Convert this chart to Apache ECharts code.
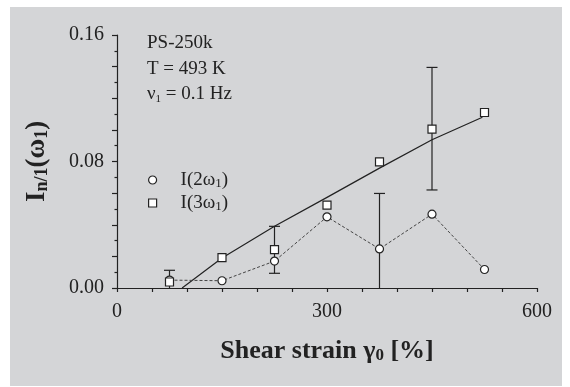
<!DOCTYPE html>
<html>
<head>
<meta charset="utf-8">
<script src="https://cdn.jsdelivr.net/npm/echarts@6/dist/echarts.min.js"></script>
<style>
  html, body { margin: 0; padding: 0; background: #fff; }
  #chart { width: 570px; height: 387px; }
</style>
</head>
<body>
<div id="chart"></div>
<script>
  // shear strain amplitude [%]
  var strain = [75, 150, 225, 300, 375, 450, 525];
  // I(2w1) and I(3w1)
  var i2 = [0.0050, 0.0046, 0.0170, 0.0450, 0.0247, 0.0467, 0.0117];
  var i3 = [0.0038, 0.0192, 0.0243, 0.0524, 0.0797, 0.1005, 0.1110];
  // fit curve through I(3w1)
  var fitX = [93, 150, 225, 300, 375, 450, 522];
  var fitY = [0, 0.0190, 0.0390, 0.0573, 0.0758, 0.0938, 0.1080];
  // error bars
  var errX = [75, 225, 375, 450];
  var errLow = [-0.001, 0.0093, -0.010, 0.0620];
  var errHigh = [0.0112, 0.0390, 0.0598, 0.1395];
  // labelled ticks
  var xTicks = [0, 300, 600];
  var yTicks = [0, 0.08, 0.16];

  var serif = '"Liberation Serif", "DejaVu Serif", serif';
  var ink = '#222';

  var chart = echarts.init(document.getElementById('chart'));

  var pts2 = strain.map(function (x, i) { return [x, i2[i]] });
  var pts3 = strain.map(function (x, i) { return [x, i3[i]] });
  var fit = fitX.map(function (x, i) { return [x, fitY[i]] });
  var errs = errX.map(function (x, i) { return [x, errLow[i], errHigh[i]] });

  chart.setOption({
    backgroundColor: '#fff',
    animation: false,
    graphic: [
      {
        type: 'rect', z: -100, silent: true,
        shape: { x: 10, y: 7, width: 552, height: 379 },
        style: { fill: '#d4d5d7' }
      },
      {
        type: 'text', left: 147, top: 34,
        style: { text: 'PS-250k', font: '19px ' + serif, fill: ink }
      },
      {
        type: 'text', left: 147, top: 60,
        style: { text: 'T = 493 K', font: '19px ' + serif, fill: ink }
      },
      {
        type: 'text', left: 147, top: 85,
        style: {
          text: 'ν{s|1} = 0.1 Hz', font: '19px ' + serif, fill: ink,
          rich: { s: { fontSize: 11, fontFamily: serif, fill: ink, padding: [9, 0, 0, 0] } }
        }
      }
    ],
    grid: { left: 117, right: 33, top: 35, bottom: 99 },
    legend: {
      orient: 'vertical',
      left: 148,
      top: 170,
      padding: 0,
      itemWidth: 8,
      itemHeight: 8,
      itemGap: 3,
      selectedMode: false,
      data: [{ name: 'I2', icon: 'circle' }, { name: 'I3', icon: 'rect' }],
      formatter: function (n) {
        return n === 'I2' ? 'I(2ω{s|1})' : 'I(3ω{s|1})';
      },
      itemStyle: { color: '#fff', borderColor: ink, borderWidth: 1.2 },
      textStyle: {
        fontFamily: serif, fontSize: 19, color: ink, lineHeight: 20,
        padding: [0, 0, 0, 19],
        rich: { s: { fontFamily: serif, fontSize: 13, color: ink, padding: [7, 0, 0, 0] } }
      }
    },
    xAxis: {
      type: 'value',
      min: 0, max: 600, interval: 50,
      name: 'Shear strain γ{s|0} [%]',
      nameLocation: 'middle',
      nameGap: 50,
      nameTextStyle: {
        fontFamily: serif, fontSize: 26, fontWeight: 'bold', color: ink,
        rich: { s: { fontFamily: serif, fontSize: 17, fontWeight: 'bold', color: ink, padding: [9, 0, 0, 0] } }
      },
      axisLine: { lineStyle: { color: ink, width: 1.2 } },
      axisTick: { length: 4, lineStyle: { color: ink, width: 1.2 } },
      splitLine: { show: false },
      axisLabel: {
        fontFamily: serif, fontSize: 20, color: ink, margin: 14,
        formatter: function (v) { return xTicks.indexOf(v) >= 0 ? String(v) : '' }
      }
    },
    yAxis: {
      type: 'value',
      min: 0, max: 0.16, interval: 0.02,
      name: 'I{s|n/1}(ω{s|1})',
      nameLocation: 'middle',
      nameRotate: 90,
      nameGap: 66,
      nameTextStyle: {
        fontFamily: serif, fontSize: 27, fontWeight: 'bold', color: ink,
        rich: { s: { fontFamily: serif, fontSize: 18, fontWeight: 'bold', color: ink, padding: [9, 0, 0, 0] } }
      },
      axisLine: { show: true, lineStyle: { color: ink, width: 1.2 } },
      axisTick: { show: true, length: 5, lineStyle: { color: ink, width: 1.2 } },
      minorTick: { show: true, splitNumber: 2, length: 2.5, lineStyle: { color: ink, width: 1.2 } },
      splitLine: { show: false },
      axisLabel: {
        fontFamily: serif, fontSize: 20, color: ink, margin: 13,
        formatter: function (v) {
          for (var k = 0; k < yTicks.length; k++) {
            if (Math.abs(v - yTicks[k]) < 1e-9) return v.toFixed(2);
          }
          return '';
        }
      }
    },
    series: [
      {
        name: 'fit',
        type: 'line',
        data: fit,
        showSymbol: false,
        silent: true,
        z: 1,
        lineStyle: { color: ink, width: 1.2 }
      },
      {
        name: 'err',
        type: 'custom',
        z: 2,
        clip: true,
        data: errs,
        renderItem: function (params, api) {
          var top = api.coord([api.value(0), api.value(2)]);
          var bot = api.coord([api.value(0), api.value(1)]);
          var w = 5.5;
          var st = { stroke: ink, lineWidth: 1.2 };
          return {
            type: 'group',
            children: [
              { type: 'line', shape: { x1: top[0], y1: top[1], x2: bot[0], y2: bot[1] }, style: st },
              { type: 'line', shape: { x1: top[0] - w, y1: top[1], x2: top[0] + w, y2: top[1] }, style: st },
              { type: 'line', shape: { x1: bot[0] - w, y1: bot[1], x2: bot[0] + w, y2: bot[1] }, style: st }
            ]
          };
        }
      },
      {
        name: 'I2',
        type: 'line',
        data: pts2,
        z: 3,
        symbol: 'circle',
        symbolSize: 8,
        itemStyle: { color: '#fff', borderColor: ink, borderWidth: 1.2 },
        lineStyle: { color: '#444', width: 1, type: [3, 2] }
      },
      {
        name: 'I3',
        type: 'scatter',
        data: pts3,
        z: 4,
        symbol: 'rect',
        symbolSize: 8,
        itemStyle: { color: '#fff', borderColor: ink, borderWidth: 1.2, opacity: 1 }
      }
    ]
  });
</script>
</body>
</html>
